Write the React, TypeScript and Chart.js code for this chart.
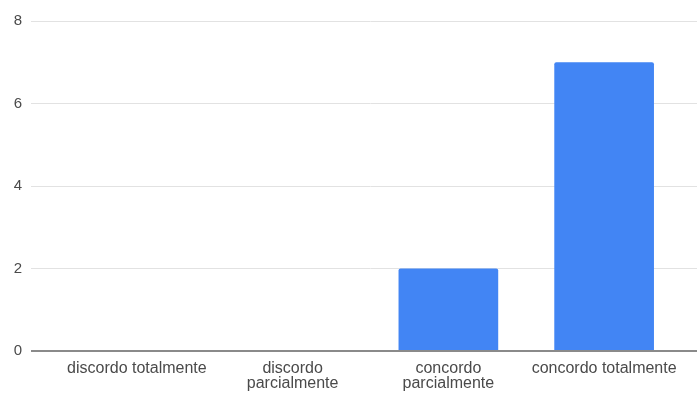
import React, { useEffect, useRef } from "react";
import { Chart, registerables } from "chart.js";

Chart.register(...registerables);

const categories: (string | string[])[] = [
  "discordo totalmente",
  ["discordo", "parcialmente"],
  ["concordo", "parcialmente"],
  "concordo totalmente",
];
const values: number[] = [0, 0, 2, 7];
const yTicks: number[] = [0, 2, 4, 6, 8];

const FONT = "Arial, 'Liberation Sans', sans-serif";

const extendGrid = {
  id: "extendGrid",
  beforeDatasetsDraw(chart: any) {
    const { ctx, chartArea, scales } = chart;
    const y = scales.y;
    ctx.save();
    y.ticks.forEach((t: any) => {
      const w = t.value === 0 ? 2 : 1;
      const half = w / 2;
      const p = y.getPixelForValue(t.value);
      const py = Math.round(p - half) + half;
      ctx.beginPath();
      ctx.strokeStyle = t.value === 0 ? "#8a8a8a" : "#e2e2e2";
      ctx.lineWidth = w;
      ctx.moveTo(chartArea.right, py);
      ctx.lineTo(chart.width, py);
      ctx.stroke();
    });
    ctx.restore();
  },
};

export default function App() {
  const ref = useRef<HTMLCanvasElement>(null);
  useEffect(() => {
    document.body.style.margin = "0";
    const chart = new Chart(ref.current!, {
      type: "bar",
      data: {
        labels: categories,
        datasets: [
          {
            data: values,
            backgroundColor: "#4285F4",
            borderRadius: 2,
            borderSkipped: "bottom",
            barPercentage: 0.64,
            categoryPercentage: 1,
          },
        ],
      },
      plugins: [extendGrid],
      options: {
        animation: false,
        responsive: false,
        layout: { padding: { top: 21, right: 15, bottom: 0, left: 0 } },
        plugins: { legend: { display: false }, tooltip: { enabled: false } },
        scales: {
          x: {
            grid: { display: false, drawTicks: false },
            border: { display: false },
            afterFit: (s: any) => {
              s.height = 43;
            },
            ticks: {
              color: "#4a4a4a",
              font: { family: FONT, size: 16, lineHeight: 0.88 },
              padding: 11,
              maxRotation: 0,
              autoSkip: false,
            },
          },
          y: {
            min: 0,
            max: 8,
            afterBuildTicks: (s: any) => {
              s.ticks = yTicks.map((v) => ({ value: v }));
            },
            afterFit: (s: any) => {
              s.width = 59;
            },
            grid: {
              color: (c: any) => (c.tick && c.tick.value === 0 ? "#8a8a8a" : "#e2e2e2"),
              lineWidth: (c: any) => (c.tick && c.tick.value === 0 ? 2 : 1),
              tickLength: 28,
            },
            border: { display: false },
            ticks: {
              color: "#4a4a4a",
              font: { family: FONT, size: 15 },
              padding: 9,
            },
          },
        },
      },
    });
    return () => chart.destroy();
  }, []);
  return (
    <div style={{ position: "fixed", left: 0, top: 0, width: 697, height: 394, background: "#fff" }}>
      <canvas ref={ref} width={697} height={394} style={{ width: 697, height: 394 }} />
    </div>
  );
}
